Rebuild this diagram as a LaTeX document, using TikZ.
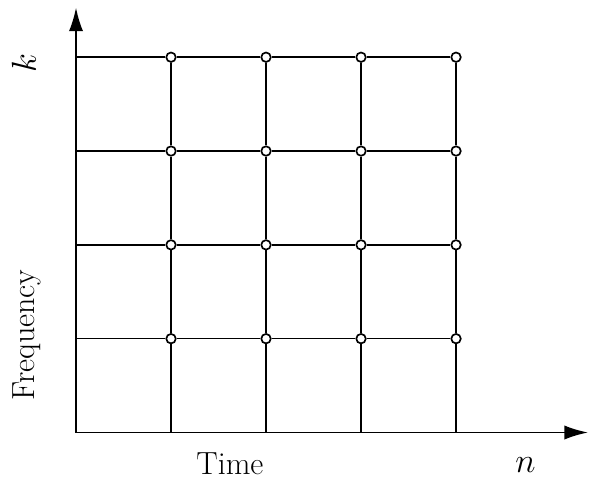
\documentclass[tikz,border=0pt]{standalone}
\usepackage{tikz}
\usetikzlibrary{arrows.meta}

\begin{document}
\begin{tikzpicture}[
    x=2.4cm, y=2.37cm,
    axis/.style={
        line width=1.4pt,
        -{Latex[length=6mm,width=3.6mm]}
    },
    gridline/.style={
        line width=1.1pt
    },
    sample/.style={
        circle,
        draw,
        line width=1.2pt,
        fill=white,
        inner sep=0pt,
        minimum size=2.4mm
    },
    label/.style={
        font=\fontsize{23}{27}\selectfont
    }
]

\useasboundingbox (-0.8,-0.5) rectangle (5.41,4.61);

\coordinate (origin) at (0,0);
\coordinate (ytip) at (0,4.53);
\coordinate (xtip) at (5.39,0);

\draw[axis] (origin) -- (ytip);
\draw[axis] (origin) -- (xtip);

% sample points of the time-frequency grid
\foreach \i in {1,...,4} {
    \foreach \j in {1,...,4} {
        \node[sample] (s-\i-\j) at (\i,\j) {};
    }
    \coordinate (b-\i) at (\i,0);
    \coordinate (l-\i) at (0,\i);
}

\foreach \j in {1,...,4} {
    \draw[gridline] (l-\j) -- (s-1-\j) -- (s-2-\j) -- (s-3-\j) -- (s-4-\j);
    \draw[gridline] (b-\j) -- (s-\j-1) -- (s-\j-2) -- (s-\j-3) -- (s-\j-4);
}

\node[label, rotate=90] (kname) at (-0.55,3.94) {$k$};
\node[label, rotate=90] (freq) at (-0.52,1.04) {Frequency};
\node[label] (time) at (1.62,-0.33) {Time};
\node[label] (nname) at (4.73,-0.35) {$n$};

\end{tikzpicture}
\end{document}
